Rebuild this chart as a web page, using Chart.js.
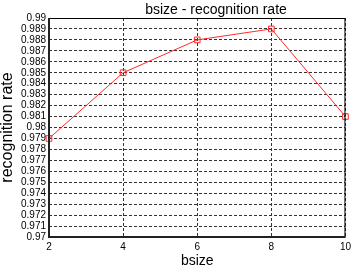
<!DOCTYPE html>
<html><head><meta charset="utf-8">
<script src="https://cdn.jsdelivr.net/npm/chart.js@4"></script>
<style>html,body{margin:0;padding:0;background:#fff}#wrap{width:355px;height:268px}</style>
</head><body><div id="wrap"><canvas id="c"></canvas></div>
<script>
const chartTitle = 'bsize - recognition rate';
const bsize = [2, 4, 6, 8, 10];
const rate = [0.979, 0.985, 0.988, 0.989, 0.981];
const yTicks = [0.97,0.971,0.972,0.973,0.974,0.975,0.976,0.977,0.978,0.979,0.98,0.981,0.982,0.983,0.984,0.985,0.986,0.987,0.988,0.989,0.99];
const FONT = "'Liberation Sans', Arial, sans-serif";
const boxPlugin = {
  id: 'box',
  afterDraw(chart) {
    const a = chart.chartArea, ctx = chart.ctx;
    ctx.save();
    ctx.strokeStyle = '#000';
    ctx.lineWidth = 1;
    ctx.strokeRect(a.left + 0.5, a.top + 0.5, a.right - a.left - 1, a.bottom - a.top - 1);
    ctx.strokeStyle = '#222';
    ctx.lineWidth = 2;
    ctx.beginPath();
    ctx.moveTo(a.left, a.top); ctx.lineTo(a.left, a.bottom); ctx.lineTo(a.right, a.bottom);
    ctx.stroke();
    // title
    ctx.fillStyle = '#000';
    ctx.font = "14px " + FONT;
    ctx.textAlign = 'center';
    ctx.textBaseline = 'alphabetic';
    ctx.fillText(chartTitle, 216, 14);
    ctx.restore();
  }
};
new Chart(document.getElementById('c'), {
  type: 'line',
  data: { datasets: [{
    data: bsize.map((x, i) => ({x, y: rate[i]})),
    borderColor: '#ff2a2a', borderWidth: 1,
    pointStyle: 'rect', pointRadius: 4, pointBorderWidth: 1,
    pointBackgroundColor: 'rgba(0,0,0,0)', pointBorderColor: '#ff2a2a',
    tension: 0, clip: false
  }]},
  options: {
    responsive: true, maintainAspectRatio: false, animation: false,
    layout: { padding: { left: 0, right: 7, top: 18, bottom: 0 } },
    plugins: { legend: { display: false }, tooltip: { enabled: false }, title: { display: false } },
    scales: {
      x: { type: 'linear', min: 2, max: 10,
        afterBuildTicks(s) { s.ticks = bsize.map(v => ({value: v})); },
        afterFit(s) { s.height = 31; },
        ticks: { color: '#000', font: { family: FONT, size: 10 }, padding: 4, maxRotation: 0, autoSkip: false },
        grid: { color: '#333', drawTicks: false, lineWidth: 1 },
        border: { display: false, dash: [3, 2] },
        title: { display: true, text: 'bsize', color: '#000', font: { family: FONT, size: 14, lineHeight: 1 }, padding: { top: 0, bottom: 0 } }
      },
      y: { min: 0.97, max: 0.99,
        afterBuildTicks(s) { s.ticks = yTicks.map(v => ({value: v})); },
        afterFit(s) { s.width = 49; },
        ticks: { color: '#000', font: { family: FONT, size: 10 }, padding: 3, autoSkip: false,
          callback: v => String(parseFloat(v.toFixed(3))) },
        grid: { color: '#333', drawTicks: false, lineWidth: 1 },
        border: { display: false, dash: [3, 2] },
        title: { display: true, text: 'recognition rate', color: '#000', font: { family: FONT, size: 16, lineHeight: 1 }, padding: { top: 0, bottom: 0 } }
      }
    }
  },
  plugins: [boxPlugin]
});
</script></body></html>
